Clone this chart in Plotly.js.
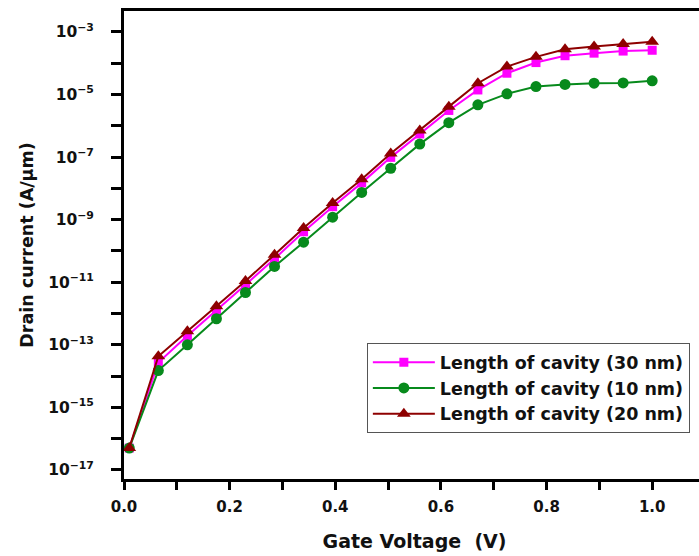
<!DOCTYPE html>
<html>
<head>
<meta charset="utf-8">
<script src="https://cdn.plot.ly/plotly-3.0.1.min.js"></script>
<style>
html, body { margin: 0; padding: 0; overflow: hidden; background: #fff; }
#chart { width: 710px; height: 556px; }
</style>
</head>
<body>
<div id="chart"></div>
<script>
// Gate voltage (V)
const gateVoltage = [0.01, 0.065, 0.12, 0.175, 0.23, 0.285, 0.34, 0.395, 0.45, 0.505, 0.56, 0.615, 0.67, 0.725, 0.78, 0.835, 0.89, 0.945, 1.0];

// Drain current (A/um)
const cavity30nm = [5e-17, 2.7e-14, 1.95e-13, 1.23e-12, 8.3e-12, 5.6e-11, 4.1e-10, 2.6e-9, 1.5e-8, 9.8e-8, 5.5e-7, 3.1e-6, 1.4e-5, 4.8e-5, 1.05e-4, 1.74e-4, 2.1e-4, 2.45e-4, 2.6e-4];
const cavity10nm = [5e-17, 1.5e-14, 1.0e-13, 6.8e-13, 4.7e-12, 3.2e-11, 1.9e-10, 1.2e-9, 7.4e-9, 4.4e-8, 2.6e-7, 1.26e-6, 4.7e-6, 1.05e-5, 1.8e-5, 2.1e-5, 2.3e-5, 2.35e-5, 2.75e-5];
const cavity20nm = [5e-17, 4.3e-14, 2.7e-13, 1.7e-12, 1.1e-11, 7.6e-11, 5.4e-10, 3.4e-9, 1.95e-8, 1.3e-7, 7.1e-7, 4.1e-6, 2.3e-5, 7.8e-5, 1.6e-4, 2.8e-4, 3.4e-4, 4.1e-4, 4.9e-4];

const seriesNames = ["Length of cavity (30 nm)", "Length of cavity (10 nm)", "Length of cavity (20 nm)"];

// Tick labels
const xTickVals = [0, 0.2, 0.4, 0.6, 0.8, 1.0];
const xTickText = ["0.0", "0.2", "0.4", "0.6", "0.8", "1.0"];
const xMinorVals = [0.1, 0.3, 0.5, 0.7, 0.9];
const yTickVals = [1e-17, 1e-15, 1e-13, 1e-11, 1e-9, 1e-7, 1e-5, 1e-3];
const yTickText = ["10<sup>−17</sup>", "10<sup>−15</sup>", "10<sup>−13</sup>", "10<sup>−11</sup>", "10<sup>−9</sup>", "10<sup>−7</sup>", "10<sup>−5</sup>", "10<sup>−3</sup>"];
const yMinorVals = [1e-16, 1e-14, 1e-12, 1e-10, 1e-8, 1e-6, 1e-4];

const FONT = "DejaVu Sans, Liberation Sans, Arial, sans-serif";

const traces = [
  {
    x: gateVoltage, y: cavity30nm, name: seriesNames[0], mode: "lines+markers",
    line: { color: "#ff00ff", width: 2 },
    marker: { symbol: "square", size: 9, color: "#ff00ff" }
  },
  {
    x: gateVoltage, y: cavity10nm, name: seriesNames[1], mode: "lines+markers",
    line: { color: "#078a1c", width: 2 },
    marker: { symbol: "circle", size: 11, color: "#078a1c" }
  },
  {
    x: gateVoltage, y: cavity20nm, name: seriesNames[2], mode: "lines+markers",
    line: { color: "#8e0000", width: 2 },
    marker: { symbol: "triangle-up", size: 12, color: "#8e0000" }
  }
];

const layout = {
  width: 710,
  height: 556,
  margin: { l: 124, r: 5, t: 11, b: 77 },
  paper_bgcolor: "#ffffff",
  plot_bgcolor: "#ffffff",
  font: { family: FONT, color: "#111", size: 15, weight: "bold" },
  showlegend: true,
  legend: {
    x: 0.418, y: 0.29, xanchor: "left", yanchor: "top",
    bgcolor: "#ffffff", bordercolor: "#555", borderwidth: 1,
    itemwidth: 62,
    font: { family: FONT, size: 17.5, color: "#111", weight: "bold" },
    tracegroupgap: 0
  },
  xaxis: {
    range: [0, 1.1],
    tickvals: xTickVals, ticktext: xTickText,
    ticks: "outside", ticklen: 8, tickwidth: 3, tickcolor: "#000",
    ticklabelstandoff: 4,
    minor: { tickvals: xMinorVals, ticks: "outside", ticklen: 8, tickwidth: 3, tickcolor: "#000", showgrid: false },
    showline: true, linewidth: 3, linecolor: "#000", mirror: true,
    showgrid: false, zeroline: false,
    tickfont: { family: FONT, size: 15, color: "#111", weight: "bold" },
    title: { text: "Gate Voltage  (V)", font: { family: FONT, size: 19, color: "#111", weight: "bold" }, standoff: 20 }
  },
  yaxis: {
    type: "log",
    range: [-17.29, -2.33],
    tickvals: yTickVals, ticktext: yTickText,
    ticks: "outside", ticklen: 10, tickwidth: 3, tickcolor: "#000",
    ticklabelstandoff: 14,
    minor: { tickvals: yMinorVals, ticks: "outside", ticklen: 10, tickwidth: 3, tickcolor: "#000", showgrid: false },
    showline: true, linewidth: 3, linecolor: "#000", mirror: true,
    showgrid: false, zeroline: false,
    tickfont: { family: FONT, size: 15.5, color: "#111", weight: "bold" },
    title: { text: "Drain current (A/μm)", font: { family: FONT, size: 17.5, color: "#111", weight: "bold" }, standoff: 11 }
  }
};

Plotly.newPlot("chart", traces, layout, { displayModeBar: false, staticPlot: true });
</script>
</body>
</html>
